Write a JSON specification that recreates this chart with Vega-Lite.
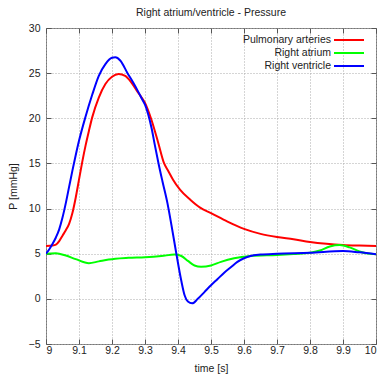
{
  "$schema": "https://vega.github.io/schema/vega-lite/v6.json",
  "width": 330,
  "height": 316,
  "autosize": {"type": "none"},
  "padding": {"left": 46, "top": 28, "right": 8, "bottom": 39},
  "background": "white",
  "title": {"text": "Right atrium/ventricle - Pressure", "fontSize": 10.5, "fontWeight": "normal", "font": "Liberation Sans", "color": "#222", "offset": 5},
  "config": {
    "view": {"stroke": "#777", "strokeWidth": 1},
    "font": "Liberation Sans",
    "axis": {"labelFont": "Liberation Sans", "titleFont": "Liberation Sans", "labelFontSize": 10.5, "titleFontSize": 10.5, "titleFontWeight": "normal", "labelColor": "#222", "titleColor": "#222", "domain": false, "tickColor": "#555", "tickSize": -5, "gridColor": "#aaa", "gridDash": [1, 2], "gridOpacity": 1}
  },
  "data": {"values": [
    {"t": 9.00, "P": 5.85, "series": "Pulmonary arteries"},
    {"t": 9.02, "P": 5.9, "series": "Pulmonary arteries"},
    {"t": 9.03, "P": 6.0, "series": "Pulmonary arteries"},
    {"t": 9.04, "P": 6.4, "series": "Pulmonary arteries"},
    {"t": 9.05, "P": 7.0, "series": "Pulmonary arteries"},
    {"t": 9.06, "P": 7.6, "series": "Pulmonary arteries"},
    {"t": 9.07, "P": 8.3, "series": "Pulmonary arteries"},
    {"t": 9.08, "P": 9.5, "series": "Pulmonary arteries"},
    {"t": 9.09, "P": 11.2, "series": "Pulmonary arteries"},
    {"t": 9.10, "P": 13.2, "series": "Pulmonary arteries"},
    {"t": 9.11, "P": 15.2, "series": "Pulmonary arteries"},
    {"t": 9.12, "P": 17.0, "series": "Pulmonary arteries"},
    {"t": 9.13, "P": 18.6, "series": "Pulmonary arteries"},
    {"t": 9.14, "P": 20.1, "series": "Pulmonary arteries"},
    {"t": 9.16, "P": 22.3, "series": "Pulmonary arteries"},
    {"t": 9.18, "P": 23.8, "series": "Pulmonary arteries"},
    {"t": 9.20, "P": 24.6, "series": "Pulmonary arteries"},
    {"t": 9.22, "P": 24.9, "series": "Pulmonary arteries"},
    {"t": 9.24, "P": 24.7, "series": "Pulmonary arteries"},
    {"t": 9.26, "P": 23.9, "series": "Pulmonary arteries"},
    {"t": 9.28, "P": 22.8, "series": "Pulmonary arteries"},
    {"t": 9.30, "P": 21.7, "series": "Pulmonary arteries"},
    {"t": 9.318, "P": 20.0, "series": "Pulmonary arteries"},
    {"t": 9.34, "P": 17.3, "series": "Pulmonary arteries"},
    {"t": 9.358, "P": 15.0, "series": "Pulmonary arteries"},
    {"t": 9.37, "P": 14.2, "series": "Pulmonary arteries"},
    {"t": 9.385, "P": 13.2, "series": "Pulmonary arteries"},
    {"t": 9.406, "P": 12.1, "series": "Pulmonary arteries"},
    {"t": 9.438, "P": 10.95, "series": "Pulmonary arteries"},
    {"t": 9.467, "P": 10.1, "series": "Pulmonary arteries"},
    {"t": 9.50, "P": 9.5, "series": "Pulmonary arteries"},
    {"t": 9.55, "P": 8.55, "series": "Pulmonary arteries"},
    {"t": 9.60, "P": 7.75, "series": "Pulmonary arteries"},
    {"t": 9.65, "P": 7.2, "series": "Pulmonary arteries"},
    {"t": 9.70, "P": 6.85, "series": "Pulmonary arteries"},
    {"t": 9.75, "P": 6.6, "series": "Pulmonary arteries"},
    {"t": 9.80, "P": 6.3, "series": "Pulmonary arteries"},
    {"t": 9.85, "P": 6.1, "series": "Pulmonary arteries"},
    {"t": 9.90, "P": 5.97, "series": "Pulmonary arteries"},
    {"t": 9.95, "P": 5.9, "series": "Pulmonary arteries"},
    {"t": 10.00, "P": 5.85, "series": "Pulmonary arteries"},

    {"t": 9.00, "P": 5.0, "series": "Right atrium"},
    {"t": 9.03, "P": 5.05, "series": "Right atrium"},
    {"t": 9.06, "P": 4.8, "series": "Right atrium"},
    {"t": 9.09, "P": 4.4, "series": "Right atrium"},
    {"t": 9.13, "P": 3.95, "series": "Right atrium"},
    {"t": 9.16, "P": 4.15, "series": "Right atrium"},
    {"t": 9.19, "P": 4.35, "series": "Right atrium"},
    {"t": 9.21, "P": 4.45, "series": "Right atrium"},
    {"t": 9.25, "P": 4.55, "series": "Right atrium"},
    {"t": 9.30, "P": 4.62, "series": "Right atrium"},
    {"t": 9.35, "P": 4.75, "series": "Right atrium"},
    {"t": 9.39, "P": 4.9, "series": "Right atrium"},
    {"t": 9.41, "P": 4.75, "series": "Right atrium"},
    {"t": 9.43, "P": 4.2, "series": "Right atrium"},
    {"t": 9.45, "P": 3.7, "series": "Right atrium"},
    {"t": 9.47, "P": 3.56, "series": "Right atrium"},
    {"t": 9.50, "P": 3.7, "series": "Right atrium"},
    {"t": 9.53, "P": 4.1, "series": "Right atrium"},
    {"t": 9.57, "P": 4.5, "series": "Right atrium"},
    {"t": 9.62, "P": 4.75, "series": "Right atrium"},
    {"t": 9.70, "P": 4.87, "series": "Right atrium"},
    {"t": 9.75, "P": 4.97, "series": "Right atrium"},
    {"t": 9.80, "P": 5.1, "series": "Right atrium"},
    {"t": 9.83, "P": 5.35, "series": "Right atrium"},
    {"t": 9.86, "P": 5.8, "series": "Right atrium"},
    {"t": 9.89, "P": 5.96, "series": "Right atrium"},
    {"t": 9.92, "P": 5.7, "series": "Right atrium"},
    {"t": 9.95, "P": 5.25, "series": "Right atrium"},
    {"t": 9.97, "P": 5.05, "series": "Right atrium"},
    {"t": 10.00, "P": 4.95, "series": "Right atrium"},

    {"t": 9.00, "P": 5.0, "series": "Right ventricle"},
    {"t": 9.01, "P": 5.5, "series": "Right ventricle"},
    {"t": 9.02, "P": 6.1, "series": "Right ventricle"},
    {"t": 9.03, "P": 6.8, "series": "Right ventricle"},
    {"t": 9.04, "P": 7.7, "series": "Right ventricle"},
    {"t": 9.05, "P": 9.0, "series": "Right ventricle"},
    {"t": 9.06, "P": 10.6, "series": "Right ventricle"},
    {"t": 9.07, "P": 12.4, "series": "Right ventricle"},
    {"t": 9.08, "P": 14.2, "series": "Right ventricle"},
    {"t": 9.09, "P": 15.9, "series": "Right ventricle"},
    {"t": 9.10, "P": 17.5, "series": "Right ventricle"},
    {"t": 9.12, "P": 20.2, "series": "Right ventricle"},
    {"t": 9.14, "P": 22.6, "series": "Right ventricle"},
    {"t": 9.16, "P": 24.7, "series": "Right ventricle"},
    {"t": 9.18, "P": 26.0, "series": "Right ventricle"},
    {"t": 9.20, "P": 26.7, "series": "Right ventricle"},
    {"t": 9.21, "P": 26.75, "series": "Right ventricle"},
    {"t": 9.225, "P": 26.4, "series": "Right ventricle"},
    {"t": 9.247, "P": 25.0, "series": "Right ventricle"},
    {"t": 9.265, "P": 23.9, "series": "Right ventricle"},
    {"t": 9.28, "P": 22.9, "series": "Right ventricle"},
    {"t": 9.29, "P": 22.2, "series": "Right ventricle"},
    {"t": 9.30, "P": 21.5, "series": "Right ventricle"},
    {"t": 9.31, "P": 20.4, "series": "Right ventricle"},
    {"t": 9.32, "P": 18.9, "series": "Right ventricle"},
    {"t": 9.33, "P": 17.0, "series": "Right ventricle"},
    {"t": 9.341, "P": 15.0, "series": "Right ventricle"},
    {"t": 9.353, "P": 13.0, "series": "Right ventricle"},
    {"t": 9.368, "P": 10.6, "series": "Right ventricle"},
    {"t": 9.38, "P": 8.2, "series": "Right ventricle"},
    {"t": 9.395, "P": 5.0, "series": "Right ventricle"},
    {"t": 9.41, "P": 2.0, "series": "Right ventricle"},
    {"t": 9.42, "P": 0.4, "series": "Right ventricle"},
    {"t": 9.43, "P": -0.3, "series": "Right ventricle"},
    {"t": 9.443, "P": -0.5, "series": "Right ventricle"},
    {"t": 9.46, "P": 0.0, "series": "Right ventricle"},
    {"t": 9.48, "P": 0.75, "series": "Right ventricle"},
    {"t": 9.50, "P": 1.5, "series": "Right ventricle"},
    {"t": 9.52, "P": 2.2, "series": "Right ventricle"},
    {"t": 9.54, "P": 2.9, "series": "Right ventricle"},
    {"t": 9.56, "P": 3.5, "series": "Right ventricle"},
    {"t": 9.58, "P": 4.1, "series": "Right ventricle"},
    {"t": 9.60, "P": 4.5, "series": "Right ventricle"},
    {"t": 9.62, "P": 4.75, "series": "Right ventricle"},
    {"t": 9.65, "P": 4.9, "series": "Right ventricle"},
    {"t": 9.70, "P": 5.0, "series": "Right ventricle"},
    {"t": 9.80, "P": 5.1, "series": "Right ventricle"},
    {"t": 9.90, "P": 5.3, "series": "Right ventricle"},
    {"t": 9.95, "P": 5.15, "series": "Right ventricle"},
    {"t": 10.00, "P": 4.95, "series": "Right ventricle"}
  ]},
  "layer": [
    {
      "mark": {"type": "line", "strokeWidth": 2, "interpolate": "monotone", "clip": true},
      "encoding": {
        "x": {"field": "t", "type": "quantitative", "scale": {"domain": [9, 10], "nice": false, "zero": false},
              "axis": {"values": [9, 9.1, 9.2, 9.3, 9.4, 9.5, 9.6, 9.7, 9.8, 9.9, 10], "format": "~g", "title": "time [s]", "labelPadding": 6.5, "titlePadding": 7}},
        "y": {"field": "P", "type": "quantitative", "scale": {"domain": [-5, 30], "nice": false, "zero": false},
              "axis": {"values": [-5, 0, 5, 10, 15, 20, 25, 30], "title": "P [mmHg]", "labelPadding": 11, "titlePadding": 10}},
        "color": {"field": "series", "type": "nominal",
                  "scale": {"domain": ["Pulmonary arteries", "Right atrium", "Right ventricle"], "range": ["#ff0000", "#00ff00", "#0000ff"]},
                  "legend": {"title": null, "orient": "none", "legendX": 297, "legendY": 6, "padding": 0, "symbolType": "M-3,0H3", "symbolSize": 100, "symbolStrokeWidth": 2, "labelAlign": "right", "labelOffset": -24, "labelFontSize": 10.5, "labelFont": "Liberation Sans", "labelColor": "#222", "rowPadding": 1}}
      }
    },
    {
      "mark": {"type": "point", "opacity": 0},
      "encoding": {
        "x": {"field": "t", "type": "quantitative", "axis": {"orient": "top", "values": [9, 9.1, 9.2, 9.3, 9.4, 9.5, 9.6, 9.7, 9.8, 9.9, 10], "labels": false, "grid": false, "title": null}},
        "y": {"field": "P", "type": "quantitative", "axis": {"orient": "right", "values": [-5, 0, 5, 10, 15, 20, 25, 30], "labels": false, "grid": false, "title": null}}
      }
    }
  ],
  "resolve": {"axis": {"x": "independent", "y": "independent"}}
}
